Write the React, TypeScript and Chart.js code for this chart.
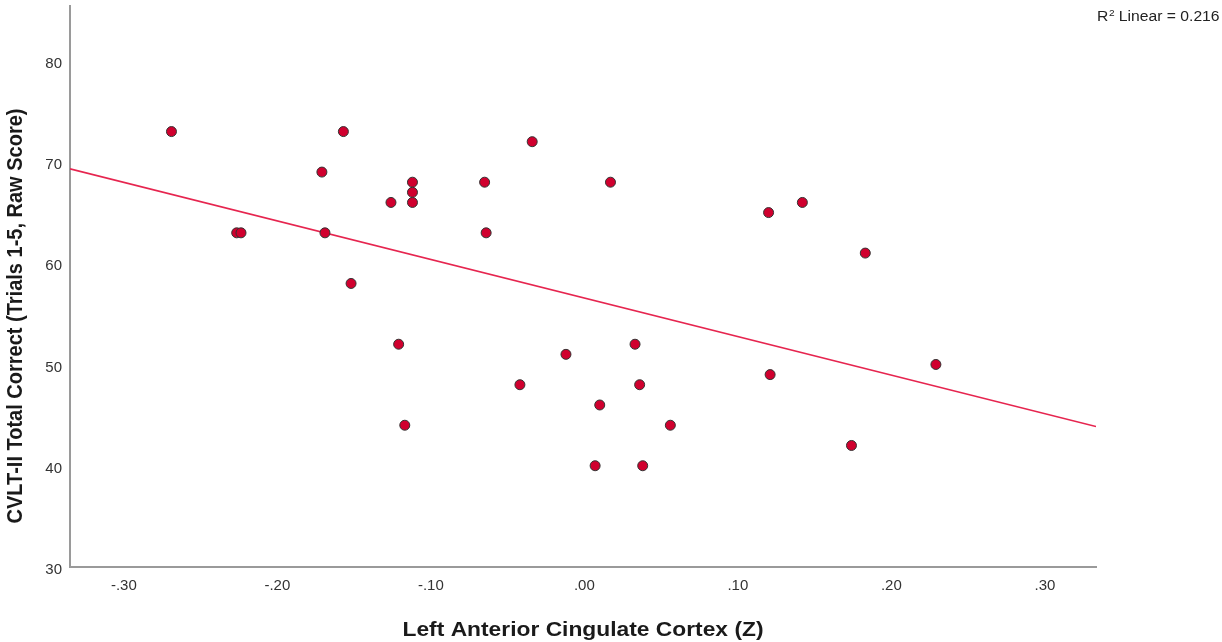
import React, { useEffect, useRef } from "react";
import { Chart, registerables } from "chart.js";

Chart.register(...registerables);

// ---- Data ----
const xValues: number[] = [
  -0.269, -0.157, -0.034, -0.171, -0.112, -0.065, 0.017, -0.112, -0.126, -0.112,
  0.142, 0.12, -0.2265, -0.2237, -0.169, -0.064, 0.183, -0.152, -0.121, 0.033,
  -0.012, 0.229, 0.121, -0.042, 0.036, 0.01, -0.117, 0.056, 0.174, 0.007, 0.038,
];
const yValues: number[] = [
  73, 73, 72, 69, 68, 68, 68, 67, 66, 66,
  66, 65, 63, 63, 63, 63, 61, 58, 52, 52,
  51, 50, 49, 48, 48, 46, 44, 44, 42, 40, 40,
];

// Fit line
const fitIntercept = 56.56;
const fitSlope = -38.08;

const xMin = -0.3351;
const xMax = 0.3333;
const yMin = 30;
const yMax = 85.4;

const xTickValues: number[] = [-0.3, -0.2, -0.1, 0, 0.1, 0.2, 0.3];
const xTickLabels: string[] = ["-.30", "-.20", "-.10", ".00", ".10", ".20", ".30"];
const yTickValues: number[] = [30, 40, 50, 60, 70, 80];
const yTickLabels: string[] = ["30", "40", "50", "60", "70", "80"];

const xTitle = "Left Anterior Cingulate Cortex (Z)";
const yTitle = "CVLT-II Total Correct (Trials 1-5, Raw Score)";
const r2Base = "R";
const r2Sup = "2";
const r2Rest = " Linear = 0.216";

const FONT = '"Liberation Sans", Arial, Helvetica, sans-serif';

const textPlugin = {
  id: "customTexts",
  afterDraw(chart: any) {
    const ctx: CanvasRenderingContext2D = chart.ctx;
    const area = chart.chartArea;
    ctx.save();
    ctx.fillStyle = "#1a1a1a";

    // Y title (rotated)
    ctx.save();
    ctx.translate(21.5, 316);
    ctx.rotate(-Math.PI / 2);
    ctx.scale(1, 1.12);
    ctx.font = `bold 20px ${FONT}`;
    ctx.textAlign = "center";
    ctx.textBaseline = "alphabetic";
    ctx.fillText(yTitle, 0, 0);
    ctx.restore();

    // X title
    ctx.save();
    ctx.translate((area.left + area.right) / 2, 636);
    ctx.scale(1.14, 1);
    ctx.font = `bold 20px ${FONT}`;
    ctx.textAlign = "center";
    ctx.textBaseline = "alphabetic";
    ctx.fillText(xTitle, 0, 0);
    ctx.restore();

    // R² label
    ctx.save();
    ctx.translate(1097, 21);
    ctx.scale(1.12, 1);
    ctx.textAlign = "left";
    ctx.textBaseline = "alphabetic";
    ctx.fillStyle = "#222";
    ctx.font = `14px ${FONT}`;
    ctx.fillText(r2Base, 0, 0);
    let w = ctx.measureText(r2Base).width + 0.5;
    ctx.font = `9px ${FONT}`;
    ctx.fillText(r2Sup, w, -5.5);
    w += ctx.measureText(r2Sup).width;
    ctx.font = `14px ${FONT}`;
    ctx.fillText(r2Rest, w, 0);
    ctx.restore();

    ctx.restore();
  },
};

export default function App() {
  const canvasRef = useRef<HTMLCanvasElement | null>(null);

  useEffect(() => {
    if (!canvasRef.current) return;
    const points = xValues.map((x, i) => ({ x, y: yValues[i] }));
    const linePts = [
      { x: xMin, y: fitIntercept + fitSlope * xMin },
      { x: xMax, y: fitIntercept + fitSlope * xMax },
    ];
    const chart = new Chart(canvasRef.current, {
      type: "scatter",
      data: {
        datasets: [
          {
            label: "points",
            data: points,
            pointRadius: 5,
            pointHoverRadius: 5,
            pointBackgroundColor: "#d0002e",
            pointBorderColor: "#333333",
            pointBorderWidth: 1,
            showLine: false,
          },
          {
            label: "fit",
            data: linePts,
            showLine: true,
            pointRadius: 0,
            borderColor: "#e6254f",
            borderWidth: 1.6,
            fill: false,
          } as any,
        ],
      },
      options: {
        responsive: false,
        maintainAspectRatio: false,
        devicePixelRatio: 1,
        animation: false,
        layout: { padding: { top: 3, right: 126, left: 0, bottom: 0 } },
        plugins: {
          legend: { display: false },
          tooltip: { enabled: false },
        },
        scales: {
          x: {
            type: "linear",
            min: xMin,
            max: xMax,
            grid: { display: false, drawTicks: false },
            border: { display: true, color: "#9a9a9a", width: 2 },
            afterFit: (scale: any) => {
              scale.height = 75;
              scale.paddingLeft = 0;
              scale.paddingRight = 0;
            },
            afterBuildTicks: (scale: any) => {
              scale.ticks = xTickValues.map((v) => ({ value: v }));
            },
            ticks: {
              padding: 10,
              color: "#333333",
              font: { family: FONT, size: 15 },
              maxRotation: 0,
              autoSkip: false,
              callback: (_v: any, i: number) => xTickLabels[i],
            },
          },
          y: {
            type: "linear",
            min: yMin,
            max: yMax,
            grid: { display: false, drawTicks: false },
            border: { display: true, color: "#9a9a9a", width: 2 },
            afterFit: (scale: any) => {
              scale.width = 70;
              scale.paddingTop = 0;
              scale.paddingBottom = 0;
            },
            afterBuildTicks: (scale: any) => {
              scale.ticks = yTickValues.map((v) => ({ value: v }));
            },
            ticks: {
              padding: 8,
              labelOffset: 3,
              color: "#333333",
              font: { family: FONT, size: 15 },
              autoSkip: false,
              callback: (_v: any, i: number) => yTickLabels[i],
            },
          },
        },
      },
      plugins: [textPlugin],
    });
    return () => chart.destroy();
  }, []);

  return (
    <div
      style={{
        position: "fixed",
        left: 0,
        top: 0,
        width: 1222,
        height: 642,
        background: "#ffffff",
      }}
    >
      <canvas ref={canvasRef} width={1222} height={642} style={{ display: "block" }} />
    </div>
  );
}
